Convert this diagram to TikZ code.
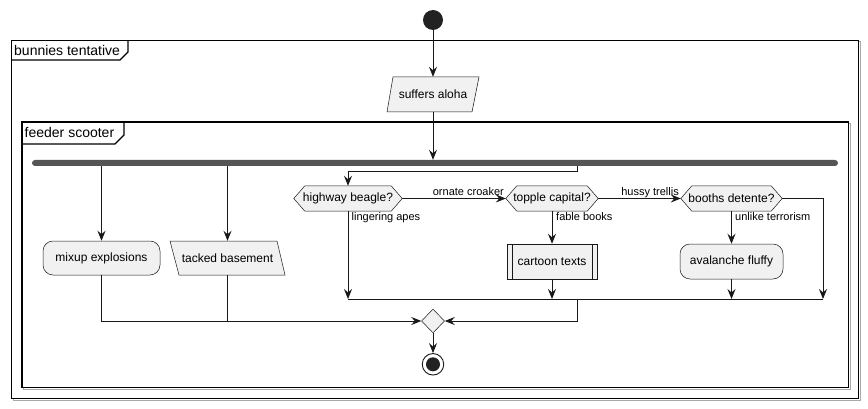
\documentclass[tikz,border=0pt]{standalone}
\usepackage{fontspec}
\setmainfont{Liberation Sans}
\usetikzlibrary{arrows.meta,calc,shapes.geometric}
\pgfdeclarelayer{framelayer}
\pgfdeclarelayer{bg}
\pgfsetlayers{framelayer,bg,main}
\definecolor{boxfill}{HTML}{F1F1F1}
\definecolor{boxline}{HTML}{181818}
\definecolor{barcol}{HTML}{555555}
\definecolor{dotcol}{HTML}{222222}
\definecolor{shadowcol}{HTML}{AAAAAA}
\begin{document}
\begin{tikzpicture}[x=1pt,y=-1pt,
  conn/.style={draw=boxline, line width=0.9pt},
  arr/.style={conn, -{Stealth[length=10pt,width=8pt,inset=3.5pt]}},
  txt/.style={font=\fontsize{12}{14}\selectfont, inner sep=0pt},
  lbl/.style={font=\fontsize{11}{13}\selectfont, inner sep=0pt},
  ttl/.style={font=\fontsize{14}{16}\selectfont, inner sep=0pt, anchor=base west},
  shp/.style={fill=boxfill, draw=boxline, line width=0.5pt},
  framebox/.style={draw=black, line width=1.1pt},
  frameshadow/.style={draw=shadowcol, line width=1pt}
]
\useasboundingbox (0,0) rectangle (868,409);

% frames
\begin{pgfonlayer}{framelayer}
\fill[white] (0,0) rectangle (868,409);
\draw[frameshadow] (13,42) rectangle (860,400.5);
\draw[framebox, fill=white] (11.5,40.5) rectangle (858.5,398.5);
\draw[framebox] (11.5,60) -- (120,60) -- (128,52) -- (128,40.5);
\draw[frameshadow] (23.5,123.5) rectangle (850,389);
\draw[framebox, fill=white] (22,122) rectangle (848.5,387.5);
\draw[framebox] (22,144) -- (115,144) -- (124,135) -- (124,122);
\end{pgfonlayer}
\node[ttl] (t1) at (14,55.5) {bunnies tentative};
\node[ttl] (t2) at (24.5,137.5) {feeder scooter};

% start
\node[circle, fill=dotcol, minimum size=20pt, inner sep=0pt] (st) at (433,20) {};

% suffers aloha
\node[txt, minimum width=92pt, minimum height=35pt] (sa) at (433,94.5) {suffers aloha};
\begin{pgfonlayer}{bg}
\path[shp] (393,77) -- (479,77) -- (472,112) -- (387,112) -- cycle;
\end{pgfonlayer}

% fork bar
\node[fill=barcol, rounded corners=3pt, minimum width=806pt, minimum height=6pt, inner sep=0pt] (fk) at (435,163) {};

% left branches
\node[txt, shp, rounded corners=10pt, minimum width=117pt, minimum height=34pt] (mx) at (101.5,258) {mixup explosions};
\node[txt, minimum width=115pt, minimum height=34pt] (tb) at (227.5,258) {tacked basement};
\begin{pgfonlayer}{bg}
\path[shp] (170,241) -- (277,241) -- (285,275) -- (179,275) -- cycle;
\end{pgfonlayer}

% hexagons
\node[txt, minimum width=108pt, minimum height=25pt] (h1) at (348,198.5) {highway beagle?};
\node[txt, minimum width=92pt, minimum height=25pt] (h2) at (552,198.5) {topple capital?};
\node[txt, minimum width=101pt, minimum height=25pt] (h3) at (731.5,198.5) {booths detente?};
\begin{pgfonlayer}{bg}
\foreach \h in {h1,h2,h3}{
  \path[shp] (\h.west) -- ($(\h.north west)+(11,0)$) -- ($(\h.north east)+(-11,0)$) -- (\h.east)
    -- ($(\h.south east)+(-11,0)$) -- ($(\h.south west)+(11,0)$) -- cycle;
}
\end{pgfonlayer}

% cartoon texts (subprocess)
\node[txt, shp, minimum width=90pt, minimum height=35pt] (ct) at (552,261.5) {cartoon texts};
\draw[boxline, line width=0.5pt] ($(ct.north west)+(5,0)$) -- ($(ct.south west)+(5,0)$);
\draw[boxline, line width=0.5pt] ($(ct.north east)+(-5,0)$) -- ($(ct.south east)+(-5,0)$);

% avalanche fluffy
\node[txt, shp, rounded corners=10pt, minimum width=103pt, minimum height=35pt] (av) at (731.5,261.5) {avalanche fluffy};

% merge diamond and end
\node[diamond, shp, minimum width=23pt, minimum height=24pt, inner sep=0pt] (md) at (433,321) {};
\node[circle, draw=boxline, line width=0.9pt, fill=white, minimum size=21.5pt, inner sep=0pt] (en) at (433,364.3) {};
\node[circle, fill=dotcol, minimum size=14pt, inner sep=0pt] (en2) at (en.center) {};

% coordinates
\coordinate (b3t) at (577,171);
\coordinate (mj) at (577,299);
\coordinate (rc) at (823,299);

% connectors
\draw[arr] (st) -- (sa.north);
\draw[arr] (sa.south) -- (sa.south |- fk.north);
\draw[arr] (fk.south -| mx.north) -- (mx.north);
\draw[arr] (fk.south -| tb.north) -- (tb.north);
\draw[arr] (fk.south -| b3t) -- (b3t) -| (h1.north);
\draw[arr] (h1.east) -- (h2.west);
\draw[arr] (h2.east) -- (h3.west);
\draw[arr] (h2.south) -- (ct.north);
\draw[arr] (h3.south) -- (av.north);
\draw[conn] (h1.south |- mj) -- (rc);
\draw[arr] (h1.south) -- (h1.south |- mj);
\draw[arr] (ct.south) -- (ct.south |- mj);
\draw[arr] (av.south) -- (av.south |- mj);
\draw[arr] (h3.east) -| (rc);
\draw[arr] (mj) |- (md.east);
\draw[arr] (mx.south) |- (md.west);
\draw[conn] (tb.south) -- (tb.south |- md.west);
\draw[arr] (md.south) -- (en.north);

% labels
\node[lbl, anchor=base east] (l1) at (504,195.5) {ornate croaker};
\node[lbl, anchor=base east] (l2) at (679,195.5) {hussy trellis};
\node[lbl, anchor=base west] (l3) at (351.5,221) {lingering apes};
\node[lbl, anchor=base west] (l4) at (556,221) {fable books};
\node[lbl, anchor=base west] (l5) at (735,221) {unlike terrorism};
\end{tikzpicture}
\end{document}
